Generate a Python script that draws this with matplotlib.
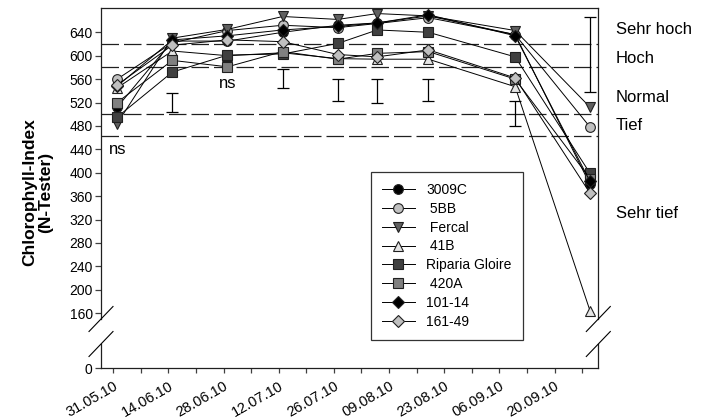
import pandas as pd
import matplotlib
matplotlib.use('Agg')
from matplotlib import pyplot as plt
from matplotlib.lines import Line2D
from matplotlib.transforms import blended_transform_factory

plt.rcParams['font.family'] = ['Liberation Sans', 'DejaVu Sans']

# Messtermine
sample_dates = ['01.06.10', '15.06.10', '29.06.10', '13.07.10', '27.07.10',
                '06.08.10', '19.08.10', '10.09.10', '29.09.10']
tick_dates = ['31.05.10', '14.06.10', '28.06.10', '12.07.10', '26.07.10',
              '09.08.10', '23.08.10', '06.09.10', '20.09.10']

# Chlorophyll-Index je Unterlage
v_3009c = [512, 625, 625, 640, 652, 656, 668, 636, 380]
v_5bb = [560, 622, 643, 652, 648, 655, 665, 636, 478]
v_fercal = [484, 630, 645, 667, 662, 672, 668, 643, 512]
v_41b = [545, 608, 600, 605, 595, 594, 594, 547, 164]
v_riparia = [495, 572, 601, 603, 621, 644, 640, 598, 399]
v_420a = [520, 592, 581, 607, 594, 604, 607, 560, 390]
v_10114 = [548, 627, 634, 644, 650, 656, 670, 634, 385]
v_16149 = [550, 618, 627, 624, 602, 598, 610, 562, 365]

# Grenzdifferenzen (von/bis)
err_dates = ['15.06.10', '13.07.10', '27.07.10', '06.08.10', '19.08.10', '10.09.10', '29.09.10']
err_low = [504, 544, 523, 520, 523, 480, 538]
err_high = [537, 578, 560, 561, 560, 523, 666]

# Klassengrenzen
limits = [620, 581, 500, 463]
classes = ['Sehr hoch', 'Hoch', 'Normal', 'Tief', 'Sehr tief']
class_pos = [644, 596, 528, 480, 331]

start = pd.Timestamp('2010-05-31')
def days(d):
    return [(pd.to_datetime(x, format='%d.%m.%y') - start).days for x in d]

x = days(sample_dates)
xt = days(tick_dates)
xe = days(err_dates)

W, H = 704, 419
def fx(px): return px / W
def fy(py): return 1 - py / H

fig = plt.figure(figsize=(7.04, 4.19), dpi=100)
ax = fig.add_axes([fx(101), fy(319), fx(598.3) - fx(101), fy(8.3) - fy(319)])
ax2 = fig.add_axes([fx(101), fy(368.3), fx(598.3) - fx(101), fy(344) - fy(368.3)])

series = [
    ('3009C', v_3009c, 'o', 'black'),
    (' 5BB', v_5bb, 'o', '#c0c0c0'),
    (' Fercal', v_fercal, 'v', '#606060'),
    (' 41B', v_41b, '^', '#e4e4e4'),
    ('Riparia Gloire', v_riparia, 's', '#404040'),
    (' 420A', v_420a, 's', '#808080'),
    ('101-14', v_10114, 'D', 'black'),
    ('161-49', v_16149, 'D', '#c0c0c0'),
]

handles = []
for name, vals, m, c in series:
    ms = 6.5 if m == 'D' else 7
    h, = ax.plot(x, vals, color='black', lw=0.7, marker=m, ms=ms,
                 mfc=c, mec='#202020', mew=0.8, label=name, zorder=3)
    handles.append(h)

for y in limits:
    ax.axhline(y, color='#202020', lw=0.9, dashes=(14, 4), zorder=1)

mid = [(a + b) / 2 for a, b in zip(err_low, err_high)]
half = [(b - a) / 2 for a, b in zip(err_low, err_high)]
ax.errorbar(xe, mid, yerr=half, fmt='none', ecolor='black', elinewidth=0.9,
            capsize=4.5, capthick=0.9, zorder=2)

ax.text(1.2, 439, 'ns', fontsize=12, ha='center', va='center')
ax.text(29, 552, 'ns', fontsize=12, ha='center', va='center')

tr = blended_transform_factory(ax.transAxes, ax.transData)
for lab, yv in zip(classes, class_pos):
    ax.text(1.035, yv, lab, transform=tr, fontsize=12, ha='left', va='center', clip_on=False)

ax.set_xlim(-3.1, 123.1)
ax2.set_xlim(-3.1, 123.1)
ax.set_ylim(150, 681)
ax2.set_ylim(0, 70)
ax.set_yticks(range(160, 641, 40))
ax2.set_yticks([0])

ax.spines['bottom'].set_visible(False)
ax2.spines['top'].set_visible(False)
for a in (ax, ax2):
    for s in a.spines.values():
        s.set_color('#202020')
        s.set_linewidth(0.9)
    a.tick_params(axis='y', direction='out', length=4, width=0.9, color='#404040', labelsize=10, pad=2)
ax.tick_params(axis='x', bottom=False, labelbottom=False)

ax2.set_xticks(xt)
ax2.set_xticks([d + 7 for d in xt], minor=True)
ax2.set_xticklabels(tick_dates, rotation=30, ha='right', rotation_mode='anchor', fontsize=10.5)
ax2.tick_params(axis='x', which='both', direction='out', length=3.5, width=0.9, color='#404040', pad=4)

# Achsenbruch
for xp in (101, 598.3):
    for yp in (319, 344):
        fig.add_artist(Line2D([fx(xp - 12), fx(xp + 12)], [fy(yp + 12.5), fy(yp - 12.5)],
                              color='black', lw=0.8))

fig.text(fx(38), fy(192), 'Chlorophyll-Index\n(N-Tester)', rotation=90, ha='center', va='center',
         fontsize=12.5, fontweight='bold', multialignment='center', linespacing=1.05)

leg = fig.legend(handles=handles, loc='lower left', bbox_to_anchor=(fx(370.7), fy(340)),
                 borderaxespad=0, fontsize=10, frameon=True, fancybox=False,
                 edgecolor='black', handlelength=2.4, labelspacing=0.35, borderpad=0.8)
leg.get_frame().set_linewidth(0.9)

fig.savefig('out.png', dpi=100)
